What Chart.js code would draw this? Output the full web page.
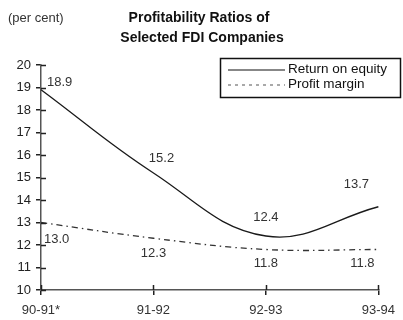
<!DOCTYPE html>
<html>
<head>
<meta charset="utf-8">
<title>Profitability Ratios of Selected FDI Companies</title>
<script src="https://cdn.jsdelivr.net/npm/chart.js@4/dist/chart.umd.min.js"></script>
<style>
    html, body { margin: 0; padding: 0; background: #fff; }
    #wrap { width: 403px; height: 320px; position: relative; }
</style>
</head>
<body>
<div id="wrap"><canvas id="myChart" width="403" height="320"></canvas></div>
<script>
'use strict';

let years = ['90-91*', '91-92', '92-93', '93-94'];
let returnOnEquity = [18.9, 15.2, 12.4, 13.7];
let profitMargin = [13.0, 12.3, 11.8, 11.8];
let yTicks = [10, 11, 12, 13, 14, 15, 16, 17, 18, 19, 20];

let font = '"Liberation Sans", Arial, sans-serif';

document.addEventListener('DOMContentLoaded', function() {
    drawChart();
});

// text outside the plot: title, unit, legend, value labels, inner tick marks
let decorations = {
    id: 'decorations',
    afterDatasetsDraw: function(chart) {
        let ctx = chart.ctx;
        let x = chart.scales.x;
        let y = chart.scales.y;
        ctx.save();

        ctx.fillStyle = '#111';
        ctx.textAlign = 'center';
        ctx.textBaseline = 'middle';
        ctx.font = 'bold 14px ' + font;
        ctx.fillText('Profitability Ratios of', 199, 18);
        ctx.fillText('Selected FDI Companies', 202, 38);

        ctx.font = '13px ' + font;
        ctx.fillStyle = '#333';
        ctx.textAlign = 'left';
        ctx.fillText('(per cent)', 8, 18);

        // tick marks crossing the axes
        ctx.strokeStyle = '#222';
        ctx.lineWidth = 1.5;
        ctx.beginPath();
        yTicks.forEach(function(v) {
            let py = Math.round(y.getPixelForValue(v)) + 0.5;
            ctx.moveTo(x.left, py);
            ctx.lineTo(x.left + 5, py);
        });
        years.forEach(function(label, i) {
            let px = Math.round(x.getPixelForValue(i)) + 0.5;
            ctx.moveTo(px, y.bottom);
            ctx.lineTo(px, y.bottom - 5);
        });
        ctx.stroke();

        // legend box
        ctx.lineWidth = 1.5;
        ctx.strokeStyle = '#111';
        ctx.strokeRect(220.5, 58.5, 180, 39);
        ctx.beginPath();
        ctx.lineWidth = 1.2;
        ctx.moveTo(228, 70);
        ctx.lineTo(285, 70);
        ctx.stroke();
        ctx.beginPath();
        ctx.setLineDash([3, 4]);
        ctx.strokeStyle = '#555';
        ctx.moveTo(228, 85);
        ctx.lineTo(285, 85);
        ctx.stroke();
        ctx.setLineDash([]);
        ctx.fillStyle = '#111';
        ctx.font = '13.5px ' + font;
        ctx.fillText('Return on equity', 288, 69);
        ctx.fillText('Profit margin', 288, 84);

        // value labels
        let roeOffsets = [[6, -7, 'left'], [8, -15, 'center'], [0, -19, 'center'], [-22, -22, 'center']];
        let pmOffsets = [[3, 17, 'left'], [0, 15, 'center'], [0, 14, 'center'], [-16, 14, 'center']];
        ctx.fillStyle = '#333';
        ctx.font = '13px ' + font;
        returnOnEquity.forEach(function(v, i) {
            let o = roeOffsets[i];
            ctx.textAlign = o[2];
            ctx.fillText(v.toFixed(1), x.getPixelForValue(i) + o[0], y.getPixelForValue(v) + o[1]);
        });
        profitMargin.forEach(function(v, i) {
            let o = pmOffsets[i];
            ctx.textAlign = o[2];
            ctx.fillText(v.toFixed(1), x.getPixelForValue(i) + o[0], y.getPixelForValue(v) + o[1]);
        });
        ctx.restore();
    }
};

function drawChart() {
    let ctx = document.getElementById('myChart').getContext('2d');
    let chart = new Chart(ctx, {
        type: 'line',
        data: {
            labels: years,
            datasets: [{
                label: 'Return on equity',
                data: returnOnEquity,
                borderColor: '#1a1a1a',
                borderWidth: 1.3,
                tension: 0.4,
                pointRadius: 0,
                fill: false
            }, {
                label: 'Profit margin',
                data: profitMargin,
                borderColor: '#333',
                borderWidth: 1.3,
                borderDash: [6, 4, 1.5, 4],
                tension: 0.4,
                pointRadius: 0,
                fill: false
            }]
        },
        options: {
            responsive: false,
            animation: false,
            layout: { padding: { top: 65, right: 24, left: 0, bottom: 0 } },
            plugins: {
                legend: { display: false },
                title: { display: false },
                tooltip: { enabled: false }
            },
            scales: {
                x: {
                    offset: false,
                    afterFit: function(scale) { scale.height = 30; },
                    grid: { drawOnChartArea: false, tickLength: 5, color: '#222', lineWidth: 1.5 },
                    border: { color: '#555', width: 1.5 },
                    ticks: { color: '#333', padding: 8, font: { family: font, size: 13 }, maxRotation: 0 }
                },
                y: {
                    min: 10,
                    max: 20,
                    afterFit: function(scale) { scale.width = 41; },
                    grid: { drawOnChartArea: false, tickLength: 5, color: '#222', lineWidth: 1.5 },
                    border: { color: '#555', width: 1.5 },
                    ticks: { stepSize: 1, color: '#222', padding: 5, font: { family: font, size: 13 } }
                }
            }
        },
        plugins: [decorations]
    });
}
</script>
</body>
</html>
